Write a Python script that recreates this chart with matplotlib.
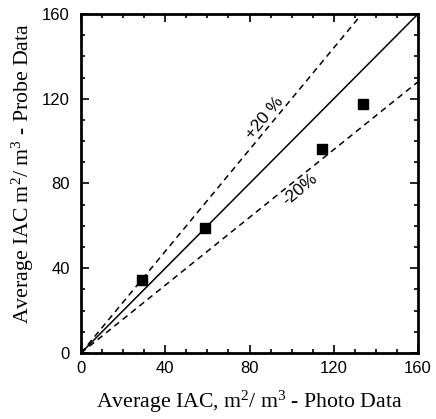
import numpy as np
from matplotlib import pyplot as plt
from matplotlib.ticker import MultipleLocator

plt.rcParams["mathtext.fontset"] = "custom"
plt.rcParams["mathtext.rm"] = "Liberation Serif"
plt.rcParams["mathtext.it"] = "Liberation Serif:italic"

# measured IAC values, m2/m3
photo = [29, 59, 114.5, 134]
probe = [34.5, 59, 96.5, 117.5]

diag = [0, 160]
upper = [0, 160 / 1.2]   # +20 % line ends at top edge
lower = [0, 160]

fig = plt.figure(figsize=(4.36, 4.19), dpi=100)
ax = fig.add_axes([81 / 436, 1 - 353 / 419, 337 / 436, 339 / 419])

ax.plot(diag, diag, color="black", lw=1.1)
ax.plot(upper, [1.2 * v for v in upper], color="black", lw=1.1, ls=(0, (4, 3)))
ax.plot(lower, [0.8 * v for v in lower], color="black", lw=1.1, ls=(0, (4, 3)))
ax.plot(photo, probe, "s", color="black", ms=6.5)

ax.text(87, 111, "+20 %", rotation=50, ha="center", va="center",
        family="Liberation Sans", fontsize=12.5)
ax.text(104, 77, "-20%", rotation=40, ha="center", va="center",
        family="Liberation Sans", fontsize=12.5)

ax.set_xlim(0, 160)
ax.set_ylim(0, 160)
ax.xaxis.set_major_locator(MultipleLocator(40))
ax.yaxis.set_major_locator(MultipleLocator(40))
ax.xaxis.set_minor_locator(MultipleLocator(10))
ax.yaxis.set_minor_locator(MultipleLocator(10))
ax.tick_params(which="both", direction="in", top=True, right=True, width=1.2)
ax.tick_params(which="major", length=6, labelsize=12)
ax.tick_params(which="minor", length=3)
ax.tick_params(axis="x", which="major", pad=6)
ax.tick_params(axis="y", which="major", pad=8)
for lab in ax.get_xticklabels() + ax.get_yticklabels():
    lab.set_family("Liberation Sans")
for s in ax.spines.values():
    s.set_linewidth(2)

ax.set_xlabel("Average IAC, m$^2$/ m$^3$ - Photo Data", family="Liberation Serif",
              fontsize=15.7, labelpad=9)
ax.set_ylabel("Average IAC m$^2$/ m$^3$ - Probe Data", family="Liberation Serif",
              fontsize=15.7)
ax.yaxis.set_label_coords(-0.135, 0.53)

fig.savefig("out.png", dpi=100)
